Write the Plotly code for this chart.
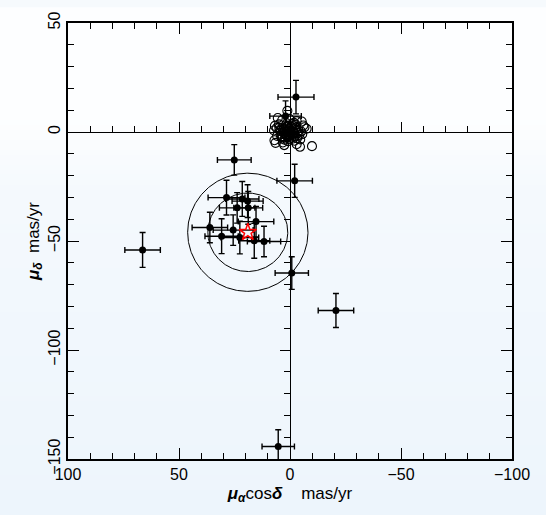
import plotly.graph_objects as go
import numpy as np

# ---- data ----
pm_ra = [-2.7, 2.0, 25.1, -2.1, 28.6, 21.5, 19.1, 23.8, 18.8, 15.3, 36.1, 25.6, 30.8, 22.6, 16.1, 11.7, 66.4, -0.8, -20.7, 5.3]
pm_dec = [16.0, 7.3, -12.8, -22.4, -30.1, -30.7, -31.7, -34.8, -34.8, -41.1, -43.8, -45.0, -47.8, -48.4, -49.9, -50.2, -54.1, -64.7, -81.9, -144.3]
err_ra = [8.1, 7.1, 7.6, 8.0, 8.3, 7.5, 7.0, 8.0, 6.5, 8.0, 8.0, 9.0, 7.5, 8.5, 7.0, 7.5, 8.0, 7.5, 8.0, 7.3]
err_dec = [7.7, 7.0, 7.0, 7.6, 8.0, 8.0, 7.5, 7.0, 7.5, 7.0, 7.0, 7.0, 8.0, 7.5, 8.0, 7.0, 8.0, 7.5, 7.8, 7.7]

field_ra = [1.2, 5.5, 7.0, 6.5, 2.6, -4.5, -9.9, -7.5, -5.3, 7.2, 5.0, 3.5, -3.0, -6.0, 4.0, 1.5,
            -1.0, -2.5, 0.5, 3.0, -4.0, 2.0, -1.5, 0.0, 1.0, -3.5, 4.5, -2.0, 2.5, -0.5, 3.8, -5.5,
            1.8, -1.2, 0.8, -2.8, 2.2, -0.2, 1.4, -3.2, 4.8, -6.5, 6.0, 3.2, -1.8, 0.3,
            0.6, -0.8, 1.6, -1.6, 0.2, 2.8, -2.2, 1.1, -0.4, 3.4, -3.8, 2.0, -1.0, 0.4, -2.6, 1.9,
            -0.9, 2.6, -1.9, 0.9, 3.6, -4.6, 5.8, -5.0, 4.2, 6.8, -3.0]
field_dec = [9.7, 6.4, -3.8, -5.0, -6.0, -6.8, -6.5, 1.5, 4.8, 0.7, 3.5, 5.5, 5.0, 3.0, -2.0, 4.0,
             3.0, 2.0, 1.5, 1.0, -1.5, -1.0, -3.0, 0.0, -2.0, -0.5, 0.5, -4.0, -3.5, 2.5, -1.0, -1.0,
             2.2, 0.8, -0.8, 1.0, -2.5, -1.8, 0.3, -2.8, 2.0, 2.2, 1.8, -4.8, 4.2, 6.0,
             -1.2, -0.3, -1.4, 1.6, 1.2, -0.2, -2.0, 2.8, -2.6, -2.2, 0.6, 3.0, 3.8, -3.2, 3.4, 0.0,
             -1.0, 1.4, -0.6, -4.2, -3.0, -3.4, -1.8, 0.2, 1.2, 2.8, -5.6]

mean_ra = [19.0]
mean_dec = [-46.0]
circle_rx = [18.0, 27.1]
circle_ry = [18.0, 27.1]

x_ticks = [100, 50, 0, -50, -100]
x_ticklabels = ["100", "50", "0", "\u221250", "\u2212100"]
y_ticks = [50, 0, -50, -100, -150]
y_ticklabels = ["50", "0", "\u221250", "\u2212100", "\u2212150"]

FONT = "Liberation Sans"

fig = go.Figure()

# background gradient bands (paper coords, beyond plot area)
W, H = 546, 515
ml, mr, mt, mb = 68, 34, 16, 56
pw, ph = W - ml - mr, H - mt - mb
def col_at(py):
    if py < 110:
        t = 0.1
    elif py < 190:
        t = 0.1 + (py - 110) / 80 * 0.5
    else:
        t = 0.6 + (py - 190) / (H - 190) * 0.4
    c0 = np.array([255, 255, 255]); c1 = np.array([237, 245, 252])
    c = c0 + (c1 - c0) * t
    return "rgb(%d,%d,%d)" % tuple(c.round().astype(int))
step = 5
for py in range(0, H, step):
    y_top = 1 - (py - mt) / ph
    y_bot = 1 - (py + step + 1 - mt) / ph
    fig.add_shape(type="rect", xref="paper", yref="paper",
                  x0=-ml / pw - 0.01, x1=1 + mr / pw + 0.01, y0=y_bot, y1=y_top,
                  fillcolor=col_at(py + step / 2), line_width=0, layer="below")

# circles around mean
th = np.linspace(0, 2 * np.pi, 361)
for rx, ry in zip(circle_rx, circle_ry):
    fig.add_trace(go.Scatter(x=mean_ra[0] + rx * np.cos(th), y=mean_dec[0] + ry * np.sin(th),
                             mode="lines", line=dict(color="black", width=1),
                             hoverinfo="skip", showlegend=False))

# field stars (open circles)
fig.add_trace(go.Scatter(x=field_ra, y=field_dec, mode="markers",
                         marker=dict(symbol="circle-open", size=9, color="black", line=dict(width=1.1)),
                         showlegend=False))

# members with error bars
fig.add_trace(go.Scatter(x=pm_ra, y=pm_dec, mode="markers",
                         marker=dict(symbol="circle", size=7, color="black"),
                         error_x=dict(type="data", array=err_ra, color="black", thickness=1.4, width=3),
                         error_y=dict(type="data", array=err_dec, color="black", thickness=1.4, width=3),
                         showlegend=False))

# mean (red star)
fig.add_trace(go.Scatter(x=mean_ra, y=mean_dec, mode="markers",
                         marker=dict(symbol="star-open", size=13, color="red", line=dict(width=1.5)),
                         showlegend=False))

# dummy trace for zero-line axes
fig.add_trace(go.Scatter(x=[None], y=[None], xaxis="x2", yaxis="y2", showlegend=False, hoverinfo="skip"))

axis_common = dict(showline=True, linecolor="black", linewidth=1.6, ticks="inside",
                   ticklen=11, tickwidth=1.3, tickcolor="black", showgrid=False, zeroline=False,
                   minor=dict(ticks="inside", ticklen=6, tickwidth=1.2, tickcolor="black", dtick=10, showgrid=False))

fig.update_layout(
    width=W, height=H,
    margin=dict(l=ml, r=mr, t=mt, b=mb),
    paper_bgcolor="rgb(246,250,253)",
    plot_bgcolor="rgba(0,0,0,0)",
    font=dict(family=FONT, size=16, color="black"),
    xaxis=dict(range=[100, -100], mirror="ticks", tickmode="array", tickvals=x_ticks,
               ticktext=x_ticklabels, tickfont=dict(size=16),
               title=dict(text="<b><i>μ</i></b><sub><b><i>α</i></b></sub>cos<b><i>δ</i></b>&nbsp;&nbsp;&nbsp;&nbsp;mas/yr",
                          font=dict(size=17), standoff=5),
               **axis_common),
    yaxis=dict(range=[-150, 50], mirror="ticks", tickmode="array", tickvals=y_ticks,
               ticktext=y_ticklabels, tickangle=-90, tickfont=dict(size=16),
               title=dict(text="<b><i>μ</i></b><sub><b><i>δ</i></b></sub>&nbsp;&nbsp;mas/yr",
                          font=dict(size=17), standoff=2),
               **axis_common),
    xaxis2=dict(range=[100, -100], overlaying="x", anchor="free", position=0.75, side="bottom",
                showticklabels=False, tickmode="array", tickvals=x_ticks,
                showline=True, linecolor="black", linewidth=1.3, ticks="inside", ticklen=10,
                tickwidth=1.3, tickcolor="black", showgrid=False, zeroline=False,
                minor=dict(ticks="inside", ticklen=5.5, tickwidth=1.2, tickcolor="black", dtick=10, showgrid=False)),
    yaxis2=dict(range=[-150, 50], overlaying="y", anchor="free", position=0.5, side="right",
                showticklabels=False, tickmode="array", tickvals=y_ticks,
                showline=True, linecolor="black", linewidth=1.3, ticks="inside", ticklen=10,
                tickwidth=1.3, tickcolor="black", showgrid=False, zeroline=False,
                minor=dict(ticks="inside", ticklen=5.5, tickwidth=1.2, tickcolor="black", dtick=10, showgrid=False)),
)

fig.write_html("out.html")
